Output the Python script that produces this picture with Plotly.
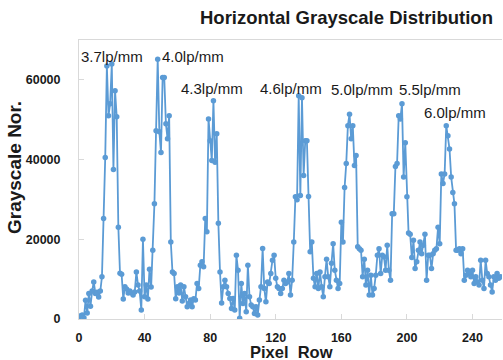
import plotly.graph_objects as go

# ---- data ----
grayscale = [
    300, 800, 1000, 300, 4700, 1500, 6400, 3200, 7000, 9300,
    6400, 6700, 5500, 7000, 10600, 25200, 40500, 63500, 51000, 54000,
    64000, 37500, 57250, 50750, 23000, 11500, 11200, 5000, 8100, 7500,
    6500, 7000, 6500, 6000, 6800, 11800, 8500, 7000, 2250, 20000,
    5600, 8500, 5000, 12500, 8000, 17250, 28900, 47250, 65200, 47000,
    41800, 60600, 60600, 49000, 45250, 51000, 19300, 11800, 11400, 5100,
    8100, 6500, 8500, 4500, 8100, 5600, 3100, 3900, 4750, 3100,
    5100, 4750, 8900, 7650, 13500, 14350, 13100, 25200, 21900, 50200,
    44750, 39750, 54750, 39300, 46500, 24000, 11800, 4000, 8100, 9750,
    8100, 6400, 5150, 2650, 5150, 2250, 16000, 12250, 170, 8900,
    3900, 6400, 1850, 13500, 5600, 3500, 3100, 1400, 3100, 1000,
    4750, 8100, 17700, 7650, 4300, 9300, 8900, 11400, 14750, 16000,
    10200, 8100, 7650, 6400, 7650, 9750, 8900, 9300, 11400, 6000,
    9750, 19300, 30700, 29900, 56000, 31000, 55500, 36000, 44750, 44750,
    30750, 16900, 19300, 10200, 8100, 11400, 7650, 11800, 8100, 5600,
    10600, 15000, 10600, 8100, 14000, 18900, 12250, 9750, 7650, 8900,
    24300, 19300, 33000, 39000, 48500, 51400, 45250, 48500, 38500, 41000,
    18100, 17650, 17250, 10600, 15000, 8500, 12250, 6000, 11000, 6000,
    7650, 11000, 16000, 17650, 11400, 16000, 15600, 12250, 18500, 12250,
    9750, 26400, 26400, 38250, 39000, 51000, 50200, 54000, 35600, 44250,
    30700, 21600, 21250, 15400, 19750, 12650, 14350, 17250, 19300, 16400,
    18500, 21250, 9750, 16000, 16000, 12650, 16400, 17250, 17650, 23000,
    18900, 36400, 34000, 36400, 48500, 46000, 42650, 35600, 31750, 28900,
    17250, 17250, 17650, 16400, 17650, 9750, 11000, 12250, 11400, 10600,
    12250, 8900, 10600, 9300, 8500, 14750, 9750, 7650, 14750, 11400,
    10600, 8500, 6800, 10600, 9750, 11400, 10200, 10600,
]
pixel_row = list(range(len(grayscale)))

x_ticks = [0, 40, 80, 120, 160, 200, 240]
y_ticks = [0, 20000, 40000, 60000]
y_tick_text = ["0", "20000", "40000", "60000"]

freq_labels = ["3.7lp/mm", "4.0lp/mm", "4.3lp/mm", "4.6lp/mm",
               "5.0lp/mm", "5.5lp/mm", "6.0lp/mm"]

# ---- figure ----
FONT = "Liberation Sans"
BLUE = "#5B9BD5"
AXIS = "#d9d9d9"
INK = "#1a1a1a"

fig = go.Figure(
    go.Scatter(
        x=pixel_row, y=grayscale, mode="lines+markers",
        line=dict(color=BLUE, width=1.8),
        marker=dict(color=BLUE, size=5.5),
        showlegend=False, hoverinfo="skip",
    )
)

label_pos = [(20.1, 65750), (69.5, 65750), (81.1, 57750), (129.3, 57750),
             (172.6, 57500), (214.0, 57500), (229.6, 51750)]
for text, (lx, ly) in zip(freq_labels, label_pos):
    fig.add_annotation(x=lx, y=ly, text=text, showarrow=False,
                       xanchor="center", yanchor="middle",
                       font=dict(family=FONT, size=15, color=INK))

# title (centred at x~346px, y~18px)
fig.add_annotation(text="Horizontal Grayscale Distribution", showarrow=False,
                   xref="paper", yref="paper",
                   x=(346 - 79) / 423, y=1 + (40 - 18) / 279,
                   xanchor="center", yanchor="middle",
                   font=dict(family=FONT, size=18.5, color=INK, weight="bold"))

# y-axis title (centred at x~14px, y~168px)
fig.add_annotation(text="Grayscale Nor.", textangle=-90, showarrow=False,
                   xref="paper", yref="paper",
                   x=(14 - 79) / 423, y=(319 - 168) / 279,
                   xanchor="center", yanchor="middle",
                   font=dict(family=FONT, size=19, color=INK, weight="bold"))

# x-axis title (centred at x~291px, y~351px)
fig.add_annotation(text="Pixel\u00a0 Row", showarrow=False,
                   xref="paper", yref="paper",
                   x=(291 - 79) / 423, y=-(351.5 - 319) / 279,
                   xanchor="center", yanchor="middle", borderpad=0,
                   font=dict(family=FONT, size=16.5, color=INK, weight="bold"))

fig.update_layout(
    width=503, height=360,
    margin=dict(l=79, r=1, t=40, b=41, autoexpand=False),
    paper_bgcolor="white", plot_bgcolor="white",
    xaxis=dict(range=[0, 258], tickvals=x_ticks, ticks="inside", ticklen=5,
               tickcolor=AXIS, showline=True, linecolor=AXIS, linewidth=1,
               mirror=True, showgrid=False, zeroline=False, automargin=False,
               ticklabelstandoff=7,
               tickfont=dict(family=FONT, size=12.5, color=INK, weight="bold")),
    yaxis=dict(range=[0, 70000], tickvals=y_ticks, ticktext=y_tick_text,
               ticks="inside", ticklen=5,
               tickcolor=AXIS, showline=True, linecolor=AXIS, linewidth=1,
               showgrid=False, zeroline=False, automargin=False,
               ticklabelstandoff=15,
               tickfont=dict(family=FONT, size=12.5, color=INK, weight="bold")),
)

fig.write_html(
    "out.html",
    config={"displayModeBar": False},
    post_script="document.body.style.margin='0';document.body.style.overflow='hidden';",
)
